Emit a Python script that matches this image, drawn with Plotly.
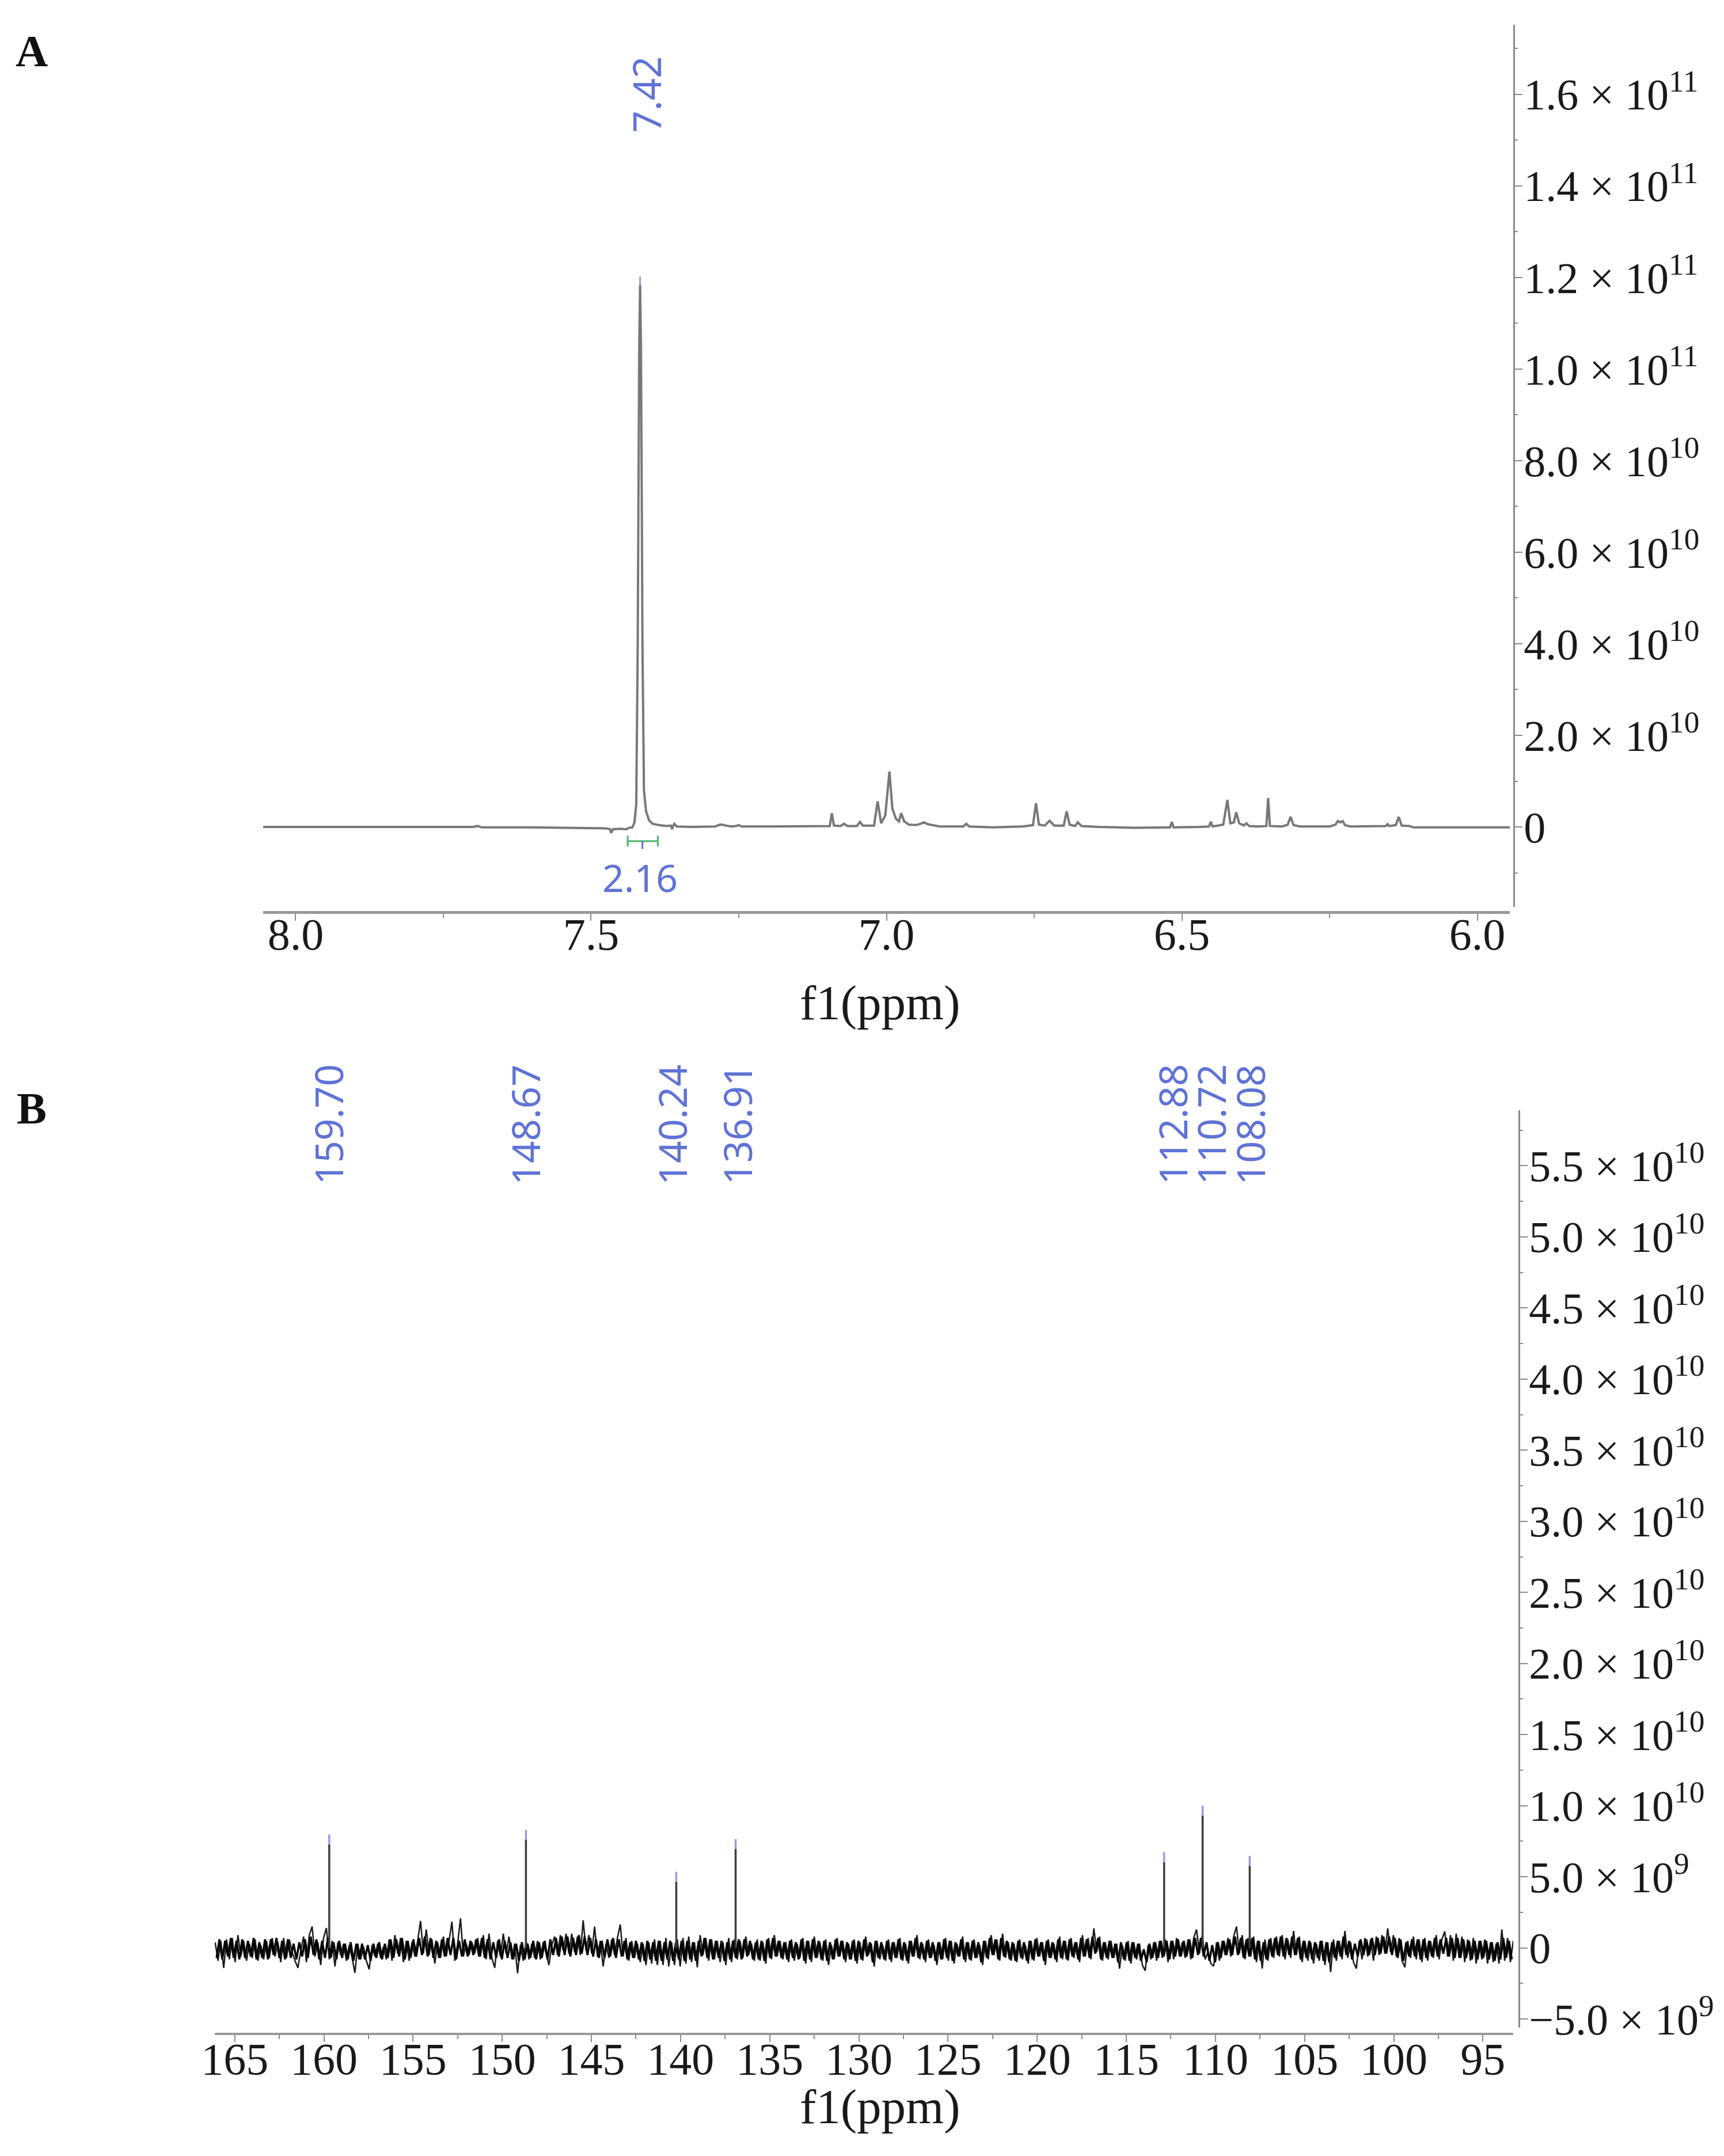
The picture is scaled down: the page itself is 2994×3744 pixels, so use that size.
import numpy as np
import plotly.graph_objects as go

W, H = 2994, 3744

# Panel A - 1H spectrum, intensity in units of 1e10
h_ppm = [8.055, 7.85, 7.70, 7.692, 7.685, 7.60, 7.50, 7.475, 7.468, 7.466, 7.463, 7.452, 7.44, 7.436, 7.43,
         7.4265, 7.4235, 7.421, 7.4185, 7.417, 7.4155, 7.413, 7.4105, 7.407, 7.402, 7.396, 7.385, 7.372, 7.365,
         7.363, 7.361, 7.359, 7.355, 7.33, 7.29, 7.282, 7.278, 7.272, 7.262, 7.255, 7.25, 7.245, 7.2,
         7.12, 7.096, 7.0925, 7.089, 7.078, 7.072, 7.066, 7.05, 7.045, 7.04, 7.021, 7.015, 7.009, 7.002, 6.995,
         6.99, 6.984, 6.979, 6.975, 6.97, 6.962, 6.95, 6.942, 6.937, 6.93, 6.91, 6.87, 6.865, 6.86, 6.82, 6.77,
         6.752, 6.747, 6.742, 6.732, 6.724, 6.716, 6.7, 6.695, 6.69, 6.681, 6.676, 6.67, 6.64, 6.58, 6.52,
         6.517, 6.514, 6.47, 6.454, 6.451, 6.448, 6.43, 6.423, 6.418, 6.412, 6.408, 6.403, 6.395, 6.391, 6.386,
         6.37, 6.357, 6.354, 6.351, 6.33, 6.321, 6.316, 6.311, 6.3, 6.25, 6.24, 6.236, 6.232, 6.228, 6.224, 6.215,
         6.17, 6.155, 6.152, 6.149, 6.138, 6.133, 6.128, 6.115, 6.108, 6.05, 5.945]
h_val = [0.0, 0.0, 0.0, 0.02, -0.01, -0.01, -0.02, -0.03, -0.05, -0.13, -0.05, -0.04, -0.05, -0.02, -0.01,
         0.1, 0.5, 4.0, 10.5, 11.84, 10.5, 4.0, 0.8, 0.35, 0.15, 0.07, 0.04, 0.02, 0.03,
         -0.05, 0.02, 0.07, 0.01, 0.0, 0.01, 0.05, 0.05, 0.03, 0.01, 0.02, 0.04, 0.01, 0.01,
         0.01, 0.02, 0.3, 0.03, 0.02, 0.07, 0.02, 0.02, 0.11, 0.03, 0.03, 0.56, 0.08, 0.25, 1.21,
         0.4, 0.18, 0.12, 0.3, 0.12, 0.05, 0.04, 0.07, 0.1, 0.06, 0.01, 0.01, 0.07, 0.01, -0.01, 0.01,
         0.04, 0.52, 0.05, 0.03, 0.135, 0.03, 0.03, 0.34, 0.05, 0.02, 0.1, 0.02, 0.0, -0.02, -0.01,
         0.11, -0.01, 0.0, 0.01, 0.115, 0.01, 0.05, 0.59, 0.08, 0.1, 0.32, 0.08, 0.03, 0.08, 0.02,
         0.01, 0.02, 0.63, 0.02, 0.01, 0.05, 0.22, 0.04, 0.01, 0.01, 0.05, 0.13, 0.1, 0.13, 0.04, 0.01,
         0.01, 0.02, 0.06, 0.02, 0.04, 0.22, 0.03, 0.02, -0.01, -0.01, -0.01]

h_peak_ppm = [7.417]
h_peak_top = [11.84]
h_labels = ["7.42"]
integral_from = 7.438
integral_to = 7.387
integral_mid = 7.413
integral_text = "2.16"

# Panel B - 13C spectrum, intensity in units of 1e9
c_peak_ppm = [159.70, 148.67, 140.24, 136.91, 112.88, 110.72, 108.08]
c_peak_top = [7.28, 7.6, 4.65, 6.95, 6.03, 9.3, 5.77]
c_labels = ["159.70", "148.67", "140.24", "136.91", "112.88", "110.72", "108.08"]

# baseline noise, read across the band every 0.16 ppm from 166.1
c_noise = [
    0.4, -0.9, 0.5, -1.4, 0.6, -0.8, 0.7, -1.0, 0.9, -0.6,
    0.5, -0.9, 0.3, -0.7, 0.6, -0.9, 0.2, -0.8, 0.5, -0.7,
    0.7, -0.6, 0.4, -1.0, 0.7, -0.7, 0.6, -0.3, -0.9, -1.4,
    -0.2, 0.8, -1.0, 0.9, 1.5, -0.6, 0.4, -1.2, 0.7, 1.4,
    -0.8, 0.5, -1.3, 0.4, -0.5, 0.3, -0.9, 0.2, -0.7, -1.75,
    0.3, -0.8, 0.1, -0.9, -1.5, 0.2, -0.6, 0.3, -0.7, 0.1,
    -0.8, 0.6, -0.9, 0.9, -0.4, 0.7, -1.0, 0.5, -0.9, 0.4,
    -0.6, 0.5, 1.9, -0.4, 1.3, -0.5, 0.6, -1.1, 0.4, -0.7,
    0.8, -0.6, 0.5, 1.85, -0.9, 0.3, 2.08, -0.6, 0.3, -0.5,
    0.4, -0.4, 0.7, -0.6, 0.9, -0.8, 1.0, -0.7, -1.4, 0.5,
    -0.6, 1.0, -0.4, 0.8, -0.8, 0.3, -1.78, 0.2, -0.9, 0.5,
    -0.8, 0.3, -0.7, 0.5, -0.8, 0.4, -0.4, -1.2, 0.2, 0.8,
    -0.5, 0.9, -0.2, 1.0, -0.4, 1.0, -0.3, 0.8, -0.5, 1.95,
    -0.2, 0.9, -0.4, 1.5, -0.6, 0.5, -1.3, 0.3, -0.7, 0.6,
    -0.5, 0.7, 1.65, -0.6, 0.7, -0.9, 0.5, -0.7, 0.3, -1.0,
    0.3, -1.2, 0.4, -1.1, 0.6, -1.2, 0.5, -1.2, 0.7, -1.3,
    0.4, -1.2, 0.6, -1.3, 0.7, -1.1, 0.8, -1.0, 0.4, -1.36,
    0.9, -0.5, 0.7, -0.9, 0.6, -0.8, 0.5, -1.0, 0.4, -1.2,
    0.7, -1.0, 0.6, -0.8, 0.5, -0.7, 0.8, -0.5, 0.3, -0.9,
    0.6, -0.9, 0.4, -1.1, 0.7, -0.8, 0.9, -0.6, 0.5, -0.8,
    0.4, -1.0, 0.6, -0.9, 0.3, -0.7, 0.7, -1.1, 0.5, -1.0,
    0.8, -0.7, 0.4, -0.9, 0.6, -1.2, 0.2, -0.8, 0.7, -0.6,
    0.5, -1.0, 0.3, -0.8, 0.6, -1.1, 0.4, -0.9, 0.8, -0.5,
    0.3, -1.3, 0.5, -0.8, 0.2, -0.9, 0.6, -1.0, 0.4, -0.7,
    0.7, -0.9, 0.3, -1.1, 0.5, -0.6, 0.9, -0.8, 0.3, -1.0,
    0.6, -0.7, 0.2, -1.2, 0.4, -0.8, 0.7, -0.9, 0.5, -1.1,
    0.3, -0.6, 0.8, -1.0, 0.4, -0.9, 0.6, -0.7, 0.2, -1.2,
    0.5, -0.8, 0.9, -0.5, 0.6, -0.9, 1.0, -0.7, 0.4, -0.9,
    0.3, -1.0, 0.6, -0.8, 0.2, -1.1, 0.5, -0.9, 0.7, -0.6,
    0.4, -1.2, 0.6, -0.7, 0.3, -1.0, 0.8, -0.8, 0.5, -0.9,
    0.7, -0.7, 0.4, -1.0, 0.9, -0.6, 0.7, -0.8, 1.38, -0.3,
    0.8, -0.9, 0.4, -0.8, 0.5, -0.7, 0.3, -1.45, 0.2, -0.9,
    0.5, -1.1, 0.4, -0.8, 0.3, -1.2, -1.6, 0.2, -0.8, 0.4,
    -0.9, 0.5, -0.7, 0.6, -1.0, 0.5, -0.8, 0.7, -0.6, 0.4,
    -0.7, 0.6, -0.8, 0.7, 1.3, -0.4, 0.9, -0.8, -0.3, -1.1,
    -1.28, 0.4, -0.9, 0.5, -0.5, 0.7, -0.6, 0.8, 1.5, -0.4,
    0.9, -0.8, 0.7, -0.6, 0.8, -1.0, 0.5, -1.45, 0.6, -0.9,
    0.7, -0.7, 0.8, -0.6, 0.9, -0.8, 0.6, -0.7, 1.2, -0.5,
    0.8, -1.0, 0.5, -0.9, 0.4, -1.1, 0.3, -0.9, 0.5, -1.2,
    0.4, -1.7, 0.6, -0.9, 0.5, -0.8, 1.2, -0.7, 0.4, -1.0,
    -1.45, 0.5, -0.8, 0.7, -0.6, 0.6, -0.9, 0.8, -0.5, 0.9,
    -0.4, 1.38, -0.3, 0.9, -0.6, 0.7, -0.9, -1.36, 0.5, -0.7,
    0.8, -0.8, 0.6, -1.0, 0.7, -0.9, 0.5, -0.7, 0.9, -0.8,
    0.6, 1.16, -0.6, 0.9, -0.9, 1.0, -0.7, 0.8, -1.0, 0.6,
    -0.9, 0.7, -1.1, 0.5, -0.8, 0.6, -1.1, 0.4, -1.0, 0.3,
    -1.1, 1.3, -0.9, 0.7, -1.0, 0.5,
]
# solid core of the band, read between those samples
c_noise_core = [
    -0.7, 0.6, -0.8, 0.5, -0.6, 0.7, -0.7, 0.5, -0.8, 0.6,
    -0.7, 0.5, -0.6, 0.7, -0.8, 0.4, -0.7, 0.6, -0.8, 0.6,
    -0.5, 0.7, -0.7, 0.5, -0.8, 0.6, -0.7, 0.3, -0.8, 0.4,
    -0.6, 0.6, -0.7, 0.8, -0.5, 0.6, -0.8, 0.5, -0.7, 0.7,
    -0.7, 0.4, -0.8, 0.5, -0.7, 0.3, -0.8, 0.4, -0.9, 0.3,
    -0.8, 0.3, -0.8, 0.2, -0.9, 0.3, -0.7, 0.4, -0.8, 0.3,
    -0.7, 0.6, -0.7, 0.6, -0.6, 0.7, -0.8, 0.5, -0.7, 0.6,
    -0.6, 0.7, -0.5, 0.8, -0.6, 0.7, -0.7, 0.5, -0.7, 0.6,
    -0.6, 0.7, -0.5, 0.7, -0.8, 0.5, -0.6, 0.6, -0.6, 0.5,
    -0.5, 0.6, -0.6, 0.7, -0.7, 0.6, -0.8, 0.4, -0.7, 0.6,
    -0.8, 0.5, -0.7, 0.4, -0.8, 0.3, -0.9, 0.4, -0.8, 0.3,
    -0.7, 0.5, -0.8, 0.4, -0.7, 0.5, -0.8, 0.6, -0.5, 0.7,
    -0.6, 0.8, -0.5, 0.8, -0.6, 0.7, -0.5, 0.9, -0.4, 0.8,
    -0.5, 0.7, -0.6, 0.6, -0.7, 0.5, -0.7, 0.6, -0.6, 0.7,
    -0.7, 0.6, -0.6, 0.5, -0.8, 0.4, -0.7, 0.5, -0.8, 0.4,
    -0.9, 0.5, -0.8, 0.4, -0.9, 0.5, -0.9, 0.4, -0.8, 0.5,
    -0.9, 0.4, -0.8, 0.5, -0.9, 0.5, -0.8, 0.4, -0.9, 0.5,
    -0.6, 0.7, -0.7, 0.6, -0.8, 0.5, -0.7, 0.5, -0.9, 0.4,
    -0.8, 0.5, -0.7, 0.6, -0.8, 0.6, -0.6, 0.5, -0.8, 0.4,
    -0.8, 0.5, -0.9, 0.6, -0.7, 0.7, -0.6, 0.5, -0.7, 0.4,
    -0.8, 0.5, -0.7, 0.4, -0.8, 0.6, -0.9, 0.5, -0.8, 0.6,
    -0.7, 0.5, -0.8, 0.5, -0.9, 0.4, -0.8, 0.6, -0.6, 0.5,
    -0.8, 0.4, -0.8, 0.5, -0.9, 0.5, -0.8, 0.6, -0.6, 0.4,
    -1.0, 0.5, -0.7, 0.4, -0.8, 0.5, -0.8, 0.4, -0.7, 0.6,
    -0.8, 0.4, -0.9, 0.5, -0.6, 0.7, -0.7, 0.4, -0.8, 0.5,
    -0.7, 0.4, -0.9, 0.4, -0.8, 0.6, -0.7, 0.5, -0.9, 0.4,
    -0.6, 0.6, -0.8, 0.4, -0.8, 0.5, -0.7, 0.4, -1.0, 0.5,
    -0.7, 0.7, -0.5, 0.6, -0.8, 0.7, -0.6, 0.5, -0.8, 0.4,
    -0.9, 0.5, -0.7, 0.4, -0.9, 0.5, -0.8, 0.6, -0.6, 0.4,
    -0.9, 0.5, -0.7, 0.4, -0.8, 0.6, -0.7, 0.5, -0.8, 0.6,
    -0.6, 0.4, -0.8, 0.7, -0.6, 0.6, -0.7, 0.8, -0.4, 0.7,
    -0.8, 0.4, -0.7, 0.5, -0.7, 0.3, -1.0, 0.4, -0.8, 0.4,
    -0.9, 0.4, -0.7, 0.3, -0.9, -0.1, -1.0, 0.3, -0.7, 0.4,
    -0.7, 0.5, -0.6, 0.5, -0.8, 0.5, -0.6, 0.6, -0.6, 0.5,
    -0.6, 0.6, -0.7, 0.7, -0.5, 0.7, -0.6, 0.4, -0.9, 0.2,
    -1.0, 0.4, -0.7, 0.5, -0.5, 0.6, -0.5, 0.8, -0.5, 0.7,
    -0.7, 0.6, -0.6, 0.7, -0.8, 0.5, -0.9, 0.4, -0.8, 0.6,
    -0.6, 0.7, -0.5, 0.8, -0.6, 0.7, -0.5, 0.8, -0.5, 0.7,
    -0.8, 0.5, -0.7, 0.5, -0.8, 0.4, -0.7, 0.5, -0.9, 0.4,
    -1.0, 0.4, -0.7, 0.5, -0.6, 0.8, -0.5, 0.5, -0.8, 0.3,
    -0.6, 0.6, -0.5, 0.6, -0.5, 0.7, -0.5, 0.7, -0.4, 0.8,
    -0.4, 0.8, -0.5, 0.7, -0.7, 0.6, -0.9, 0.4, -0.6, 0.6,
    -0.6, 0.6, -0.8, 0.6, -0.7, 0.5, -0.6, 0.7, -0.6, 0.6,
    -0.4, 0.7, -0.6, 0.7, -0.7, 0.7, -0.7, 0.6, -0.7, 0.5,
    -0.8, 0.5, -0.8, 0.5, -0.7, 0.5, -0.8, 0.4, -0.9, 0.4,
    -0.8, 0.7, -0.7, 0.5, -0.8,
]
c_noise_start = 166.1
c_noise_step = 0.16

# Axis ticks
a_x_major = [8.0, 7.5, 7.0, 6.5, 6.0]
a_x_minor = [7.75, 7.25, 6.75, 6.25]
a_x_text = ["8.0", "7.5", "7.0", "6.5", "6.0"]
a_y_major = [0, 2e10, 4e10, 6e10, 8e10, 1e11, 1.2e11, 1.4e11, 1.6e11]
a_y_minor = [-1e10, 1e10, 3e10, 5e10, 7e10, 9e10, 1.1e11, 1.3e11, 1.5e11, 1.7e11]
a_y_text = ["0", "2.0 × 10<sup>10</sup>", "4.0 × 10<sup>10</sup>", "6.0 × 10<sup>10</sup>", "8.0 × 10<sup>10</sup>",
            "1.0 × 10<sup>11</sup>", "1.2 × 10<sup>11</sup>", "1.4 × 10<sup>11</sup>", "1.6 × 10<sup>11</sup>"]

b_x_major = [165, 160, 155, 150, 145, 140, 135, 130, 125, 120, 115, 110, 105, 100, 95]
b_x_minor = [162.5, 157.5, 152.5, 147.5, 142.5, 137.5, 132.5, 127.5, 122.5, 117.5, 112.5, 107.5, 102.5, 97.5]
b_x_text = ["165", "160", "155", "150", "145", "140", "135", "130", "125", "120", "115", "110", "105", "100", "95"]
b_y_major = [-5e9, 0, 5e9, 1e10, 1.5e10, 2e10, 2.5e10, 3e10, 3.5e10, 4e10, 4.5e10, 5e10, 5.5e10]
b_y_minor = [-2.5e9, 2.5e9, 7.5e9, 1.25e10, 1.75e10, 2.25e10, 2.75e10, 3.25e10, 3.75e10, 4.25e10, 4.75e10, 5.25e10, 5.75e10]
b_y_text = ["−5.0 × 10<sup>9</sup>", "0", "5.0 × 10<sup>9</sup>", "1.0 × 10<sup>10</sup>", "1.5 × 10<sup>10</sup>",
            "2.0 × 10<sup>10</sup>", "2.5 × 10<sup>10</sup>", "3.0 × 10<sup>10</sup>", "3.5 × 10<sup>10</sup>",
            "4.0 × 10<sup>10</sup>", "4.5 × 10<sup>10</sup>", "5.0 × 10<sup>10</sup>", "5.5 × 10<sup>10</sup>"]

SERIF = "Liberation Serif"
LABEL_FONT = "Noto Sans"
BLUE = "#5f72d6"
MARK_BLUE = "#9a9ae6"
GREEN = "#4fb36c"
AXIS_GREY = "#8a8a8a"


def px_x(x):
    return x / W


def px_y(y):
    return 1 - y / H


# vertical sticks with gaps between them, for peaks and peak marks
def sticks(xs, lows, highs):
    out_x, out_y = [], []
    for x, lo, hi in zip(xs, lows, highs):
        out_x += [x, x, None]
        out_y += [lo, hi, None]
    return out_x, out_y


def x_axis(left, right, line_y, rng, major, minor, text, line_w, standoff):
    return dict(domain=[px_x(left), px_x(right)], range=rng, anchor="free", position=px_y(line_y), automargin=False,
                tickmode="array", tickvals=major, ticktext=text, ticks="outside", ticklen=12, tickwidth=2,
                ticklabelstandoff=standoff,
                tickcolor=AXIS_GREY, showline=True, linecolor="#999999", linewidth=line_w, showgrid=False,
                zeroline=False, tickfont=dict(family=SERIF, size=78, color="#1a1a1a"),
                minor=dict(tickmode="array", tickvals=minor, ticks="outside", ticklen=7, tickwidth=2,
                           tickcolor=AXIS_GREY, showgrid=False))


def y_axis(top, bottom, line_x, rng, major, minor, text):
    return dict(domain=[px_y(bottom), px_y(top)], range=rng, anchor="free", position=px_x(line_x), side="right",
                automargin=False, tickmode="array", tickvals=major, ticktext=text, ticks="outside", ticklen=13,
                ticklabelstandoff=-13,
                tickwidth=2, tickcolor=AXIS_GREY, showline=True, linecolor=AXIS_GREY, linewidth=3, showgrid=False,
                zeroline=False, tickfont=dict(family=SERIF, size=76, color="#1a1a1a"),
                minor=dict(tickmode="array", tickvals=minor, ticks="outside", ticklen=5, tickwidth=2,
                           tickcolor=AXIS_GREY, showgrid=False))


fig = go.Figure()

# --- Panel A ---
h_y = np.array(h_val) * 1e10
fig.add_trace(go.Scatter(x=h_ppm, y=h_y, mode="lines", line=dict(color="#787878", width=4),
                         xaxis="x", yaxis="y"))

mx, my = sticks(h_peak_ppm, np.array(h_peak_top) * 1e10, (np.array(h_peak_top) + 0.18) * 1e10)
fig.add_trace(go.Scatter(x=mx, y=my, mode="lines", line=dict(color=MARK_BLUE, width=3), xaxis="x", yaxis="y"))

# integral bracket under the big peak
bar_y, cap_lo, cap_hi = -3.1e9, -1.9e9, -4.3e9
fig.add_trace(go.Scatter(x=[integral_from, integral_to], y=[bar_y, bar_y], mode="lines",
                         line=dict(color=GREEN, width=3), xaxis="x", yaxis="y"))
gx, gy = sticks([integral_from, integral_to], [cap_lo, cap_lo], [cap_hi, cap_hi])
fig.add_trace(go.Scatter(x=gx, y=gy, mode="lines", line=dict(color=GREEN, width=3), xaxis="x", yaxis="y"))
fig.add_trace(go.Scatter(x=[integral_mid, integral_mid], y=[bar_y, -4.8e9], mode="lines",
                         line=dict(color=BLUE, width=3), xaxis="x", yaxis="y"))

# --- Panel B ---
c_x = c_noise_start - c_noise_step * np.arange(len(c_noise))
fig.add_trace(go.Scatter(x=c_x, y=np.array(c_noise) * 1e9, mode="lines", line=dict(color="#1a1a1a", width=2.5),
                         xaxis="x2", yaxis="y2"))
core_x = c_noise_start - c_noise_step * (np.arange(len(c_noise_core)) + 0.5)
fig.add_trace(go.Scatter(x=core_x, y=np.array(c_noise_core) * 1e9, mode="lines", line=dict(color="#000000", width=3.5),
                         xaxis="x2", yaxis="y2"))

top = np.array(c_peak_top) * 1e9
sx, sy = sticks(c_peak_ppm, np.zeros(len(top)), top)
fig.add_trace(go.Scatter(x=sx, y=sy, mode="lines", line=dict(color="#3c3c3c", width=3.5), xaxis="x2", yaxis="y2"))
mx, my = sticks(c_peak_ppm, top, top + 0.7e9)
fig.add_trace(go.Scatter(x=mx, y=my, mode="lines", line=dict(color=MARK_BLUE, width=3.5), xaxis="x2", yaxis="y2"))

annotations = []


def add_text(text, x, y, xref, yref, size, family, color, angle=0, xshift=0):
    annotations.append(dict(text=text, x=x, y=y, xref=xref, yref=yref, showarrow=False, textangle=angle, xshift=xshift,
                            xanchor="center", yanchor="middle", font=dict(family=family, size=size, color=color)))


# peak labels, nudged sideways like the original so they don't collide
for ppm, lab in zip(h_peak_ppm, h_labels):
    add_text(lab, ppm, 1.6e11, "x", "y", 67, LABEL_FONT, BLUE, angle=-90, xshift=10)
add_text(integral_text, 7.417, -1.10e10, "x", "y", 66, LABEL_FONT, BLUE)

c_shifts = [-2, -2, -8, 2, 14, 14, 0]
for ppm, lab, shift in zip(c_peak_ppm, c_labels, c_shifts):
    add_text(lab, ppm, 5.79e10, "x2", "y2", 67, LABEL_FONT, BLUE, angle=-90, xshift=shift)

# panel letters and axis titles
add_text("<b>A</b>", px_x(55), px_y(88), "paper", "paper", 78, SERIF, "#111111")
add_text("<b>B</b>", px_x(55), px_y(1925), "paper", "paper", 78, SERIF, "#111111")
add_text("f1(ppm)", px_x(1528), px_y(1741), "paper", "paper", 85, SERIF, "#1a1a1a")
add_text("f1(ppm)", px_x(1528), px_y(3658), "paper", "paper", 85, SERIF, "#1a1a1a")

fig.update_layout(
    width=W, height=H, autosize=False, showlegend=False, hovermode=False,
    margin=dict(l=0, r=0, t=0, b=0), paper_bgcolor="white", plot_bgcolor="white",
    xaxis=x_axis(457, 2622, 1584, [8.055, 5.945], a_x_major, a_x_minor, a_x_text, 5, -44),
    yaxis=y_axis(43, 1575, 2629, [-1.748e10, 1.752e11], a_y_major, a_y_minor, a_y_text),
    xaxis2=x_axis(373, 2628, 3532, [166.12, 93.3], b_x_major, b_x_minor, b_x_text, 4, -38),
    yaxis2=y_axis(1928, 3521, 2638, [-5.6e9, 5.89e10], b_y_major, b_y_minor, b_y_text),
    annotations=annotations,
)

fig.write_html("out.html", config={"displayModeBar": False},
               post_script="document.body.style.margin='0';")
